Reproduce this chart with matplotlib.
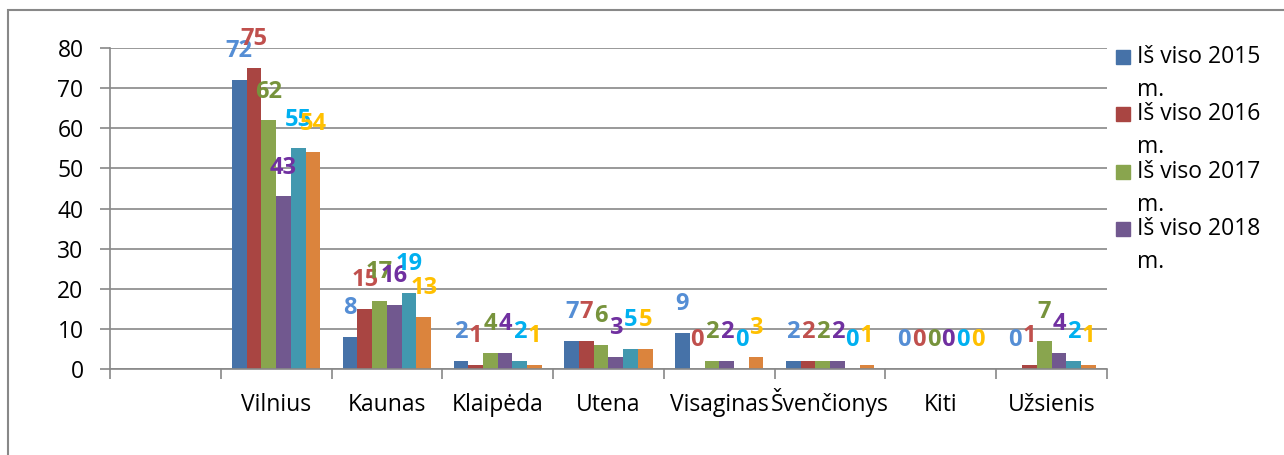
import numpy as np
import matplotlib
matplotlib.use("Agg")
import matplotlib.pyplot as plt
from matplotlib.patches import Rectangle

plt.rcParams['font.family'] = ['Open Sans', 'DejaVu Sans']

# data
categories = ["", "Vilnius", "Kaunas", "Klaipėda", "Utena", "Visaginas",
              "Švenčionys", "Kiti", "Užsienis"]
series_names = ["Iš viso 2015 m.", "Iš viso 2016 m.", "Iš viso 2017 m.",
                "Iš viso 2018 m.", "Iš viso 2019 m.", "Iš viso 2020 m."]
v2015 = [np.nan, 72, 8, 2, 7, 9, 2, 0, 0]
v2016 = [np.nan, 75, 15, 1, 7, 0, 2, 0, 1]
v2017 = [np.nan, 62, 17, 4, 6, 2, 2, 0, 7]
v2018 = [np.nan, 43, 16, 4, 3, 2, 2, 0, 4]
v2019 = [np.nan, 55, 19, 2, 5, 0, 0, 0, 2]
v2020 = [np.nan, 54, 13, 1, 5, 3, 1, 0, 1]
series = [v2015, v2016, v2017, v2018, v2019, v2020]

bar_colors = ["#4672A8", "#A94542", "#89A54E", "#71588F", "#4298AF", "#DB843D"]
label_colors = ["#558ED5", "#C0504D", "#77933C", "#7030A0", "#00B0F0", "#FFC000"]
grey = "#888888"

fig = plt.figure(figsize=(12.84, 4.55), dpi=100)
ax = fig.add_axes([110 / 1284, 1 - 369 / 455, 997 / 1284, 321 / 455])

x = np.arange(len(categories))
w = 0.133
n = len(series)
for i, vals in enumerate(series):
    pos = x + (i - (n - 1) / 2) * w
    vals = np.array(vals, dtype=float)
    ax.bar(pos, vals, width=w, color=bar_colors[i], zorder=3)
    for p, v in zip(pos, vals):
        if np.isnan(v):
            continue
        ax.annotate(str(int(v)), (p, v), xytext=(0, 12), textcoords="offset points",
                    ha="center", va="bottom", fontsize=17, fontweight="bold",
                    color=label_colors[i], zorder=4)

ax.set_xlim(-0.5, len(categories) - 0.5)
ax.set_ylim(0, 80)
ax.set_yticks(range(0, 81, 10))
ax.set_xticks(x)
ax.set_xticklabels(categories, va="baseline")
ax.set_xticks(np.arange(-0.5, len(categories)), minor=True)
ax.tick_params(axis="x", which="major", length=0, pad=30, labelsize=16.5)
ax.tick_params(axis="x", which="minor", length=7, width=1.2, color=grey)
ax.tick_params(axis="y", length=7, width=1.2, color=grey, pad=12, labelsize=16.5)
ax.grid(axis="y", color=grey, linewidth=1.2, zorder=0)
for s in ["top", "right"]:
    ax.spines[s].set_visible(False)
for s in ["left", "bottom"]:
    ax.spines[s].set_color(grey)
    ax.spines[s].set_linewidth(1.2)
    ax.spines[s].set_zorder(5)

# legend, drawn by hand (only the first four entries fit)
for i in range(4):
    yc = 57 + 57.3 * i
    fig.add_artist(Rectangle((1116 / 1284, 1 - (yc + 7) / 455), 14 / 1284, 14 / 455,
                             transform=fig.transFigure, color=bar_colors[i]))
    first, last = series_names[i].rsplit(" ", 1)
    fig.text(1137 / 1284, 1 - yc / 455, first, fontsize=16.5, va="center", ha="left")
    fig.text(1137 / 1284, 1 - (yc + 33) / 455, last, fontsize=16.5, va="center", ha="left")

# outer chart frame
fig.add_artist(Rectangle((8 / 1284, -0.1), 1.2, 1 - 10 / 455 + 0.1,
                         transform=fig.transFigure, fill=False, edgecolor=grey, lw=1.5))

fig.savefig("out.png", dpi=100)
